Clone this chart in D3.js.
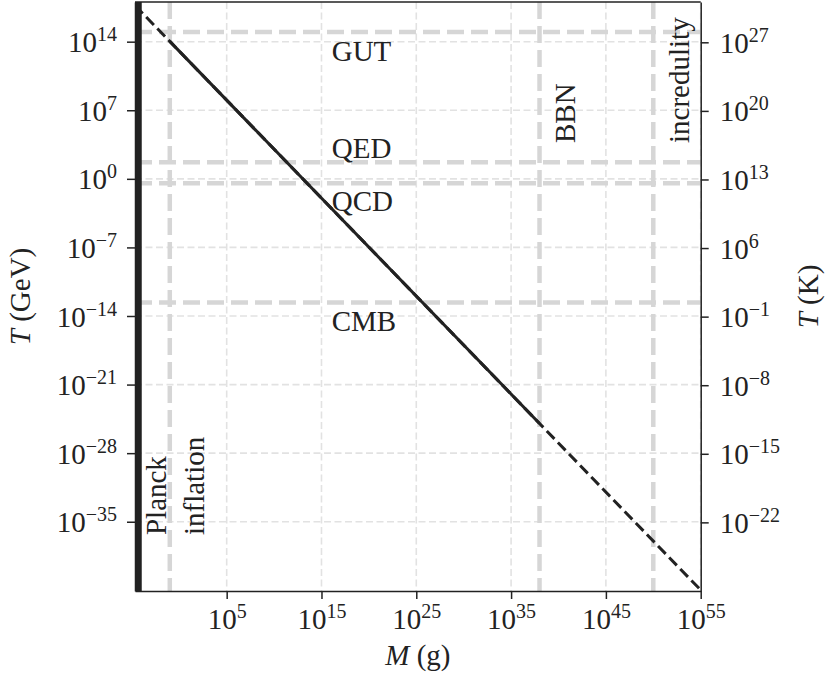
<!DOCTYPE html>
<html><head><meta charset="utf-8">
<script src="https://cdn.jsdelivr.net/npm/d3@7"></script>
<style>body{margin:0;background:#fff} svg{display:block}</style>
</head><body>
<svg id="c" width="828" height="678"></svg>
<script>
// ---- data (exponents of ten) ----
const xDomainExp = [-4.67, 55];          // M (g)
const yDomainExp = [-42.07, 18.05];      // T (GeV)
const GeVtoK = 1.1605e13;
const xTickExp = [5, 15, 25, 35, 45, 55];
const yTickExpGeV = [14, 7, 0, -7, -14, -21, -28, -35];
const yTickExpK = [27, 20, 13, 6, -1, -8, -15, -22];
// Hawking temperature curve points
const curveMassExp = [-4.66, -1, 38, 55];
const curveTempExp = [17.69, 14.03, -24.97, -41.97];
// epochs
const planckMassExp = -4.67;
const hLineNames = ["GUT", "QED", "QCD", "CMB"];
const hLineTempExp = [15.0, 1.69, -0.44, -12.63];
const vLineNames = ["inflation", "BBN", "incredulity"];
const vLineMassExp = [-1, 38, 50];
// labels
const hLabelText = ["GUT", "QED", "QCD", "CMB"];
const hLabelMassExp = [16.08, 16.08, 16.08, 16.08];
const hLabelTempExp = [12.03, 2.13, -3.28, -15.53];
const vLabelText = ["Planck", "inflation", "BBN", "incredulity"];
const vLabelMassExp = [-1.38, 2.58, 41.74, 53.77];
const vLabelTempExp = [-36.36, -36.36, 3.66, 3.66];

// ---- layout ----
const W = 828, H = 678;
const m = {left: 135, top: 2, right: 127.3, bottom: 87};
const iw = W - m.left - m.right, ih = H - m.top - m.bottom;
const FONT = "'Liberation Serif', 'DejaVu Serif', serif";
const ink = "#222";
const FS = 29, SUP = 20;
const p10 = e => Math.pow(10, e);

const x = d3.scaleLog().domain(xDomainExp.map(p10)).range([0, iw]);
const y = d3.scaleLog().domain(yDomainExp.map(p10)).range([ih, 0]);
const yK = d3.scaleLog().domain(yDomainExp.map(e => p10(e) * GeVtoK)).range([ih, 0]);

const svg = d3.select("#c").attr("font-family", FONT);
svg.append("rect").attr("width", W).attr("height", H).attr("fill", "#fff");
const defs = svg.append("defs");
defs.append("clipPath").attr("id", "clip").append("rect").attr("width", iw).attr("height", ih);
const g = svg.append("g").attr("transform", `translate(${m.left},${m.top})`);
const plot = g.append("g").attr("clip-path", "url(#clip)");

// grid
plot.selectAll(".gx").data(xTickExp).join("line")
  .attr("x1", d => x(p10(d))).attr("x2", d => x(p10(d)))
  .attr("y1", 0).attr("y2", ih)
  .attr("stroke", "#e2e2e2").attr("stroke-width", 1.6).attr("stroke-dasharray", "7,3.5");
plot.selectAll(".gy").data(yTickExpGeV).join("line")
  .attr("y1", d => y(p10(d))).attr("y2", d => y(p10(d)))
  .attr("x1", 0).attr("x2", iw)
  .attr("stroke", "#e2e2e2").attr("stroke-width", 1.6).attr("stroke-dasharray", "7,3.5");

// epoch lines
plot.selectAll(".hl").data(hLineTempExp).join("line")
  .attr("y1", d => y(p10(d))).attr("y2", d => y(p10(d)))
  .attr("x1", 0).attr("x2", iw)
  .attr("stroke", "#d6d6d6").attr("stroke-width", 4.5).attr("stroke-dasharray", "17,7");
plot.selectAll(".vl").data(vLineMassExp).join("line")
  .attr("x1", d => x(p10(d))).attr("x2", d => x(p10(d)))
  .attr("y1", 0).attr("y2", ih)
  .attr("stroke", "#d6d6d6").attr("stroke-width", 4.5).attr("stroke-dasharray", "17,7");

// curve
const pts = curveMassExp.map((e, i) => [p10(e), p10(curveTempExp[i])]);
const line = d3.line().x(d => x(d[0])).y(d => y(d[1]));
plot.append("path").attr("d", line(pts)).attr("fill", "none")
  .attr("stroke", ink).attr("stroke-width", 3).attr("stroke-dasharray", "11,5");
plot.append("path").attr("d", line(pts.slice(1, 3))).attr("fill", "none")
  .attr("stroke", ink).attr("stroke-width", 3);

// Planck wall
plot.append("line")
  .attr("x1", x(p10(planckMassExp))).attr("x2", x(p10(planckMassExp)))
  .attr("y1", 0).attr("y2", ih).attr("stroke", ink).attr("stroke-width", 13.5);

// labels
g.selectAll(".hlab").data(hLabelText).join("text")
  .attr("x", (d, i) => x(p10(hLabelMassExp[i])))
  .attr("y", (d, i) => y(p10(hLabelTempExp[i])))
  .attr("font-size", FS).attr("fill", ink).text(d => d);
g.selectAll(".vlab").data(vLabelText).join("text")
  .attr("transform", (d, i) => `translate(${x(p10(vLabelMassExp[i]))},${y(p10(vLabelTempExp[i]))}) rotate(-90)`)
  .attr("font-size", FS).attr("fill", ink).text(d => d);

// axes
const supLabel = (sel) => sel.each(function(d) {
  const e = Math.round(Math.log10(d));
  const t = d3.select(this);
  t.text(null);
  t.append("tspan").text("10");
  t.append("tspan").attr("font-size", SUP).attr("dy", -11).text(String(e).replace("-", "\u2212"));
});
const styleAxis = (ax) => {
  ax.select(".domain").attr("stroke", ink).attr("stroke-width", 1.5);
  ax.selectAll(".tick line").attr("stroke", ink).attr("stroke-width", 1.5);
  ax.selectAll(".tick text").attr("font-family", FONT).attr("font-size", FS).attr("fill", ink);
};

const axB = g.append("g").attr("transform", `translate(0,${ih})`)
  .call(d3.axisBottom(x).tickValues(xTickExp.map(p10)).tickSize(8).tickSizeOuter(0).tickPadding(9));
styleAxis(axB);
axB.selectAll(".tick text").attr("dy", "0.71em").call(supLabel);

const axL = g.append("g")
  .call(d3.axisLeft(y).tickValues(yTickExpGeV.map(p10)).tickSize(8).tickSizeOuter(0).tickPadding(10));
styleAxis(axL);
axL.selectAll(".tick text").attr("dy", "0.345em").call(supLabel);

const axR = g.append("g").attr("transform", `translate(${iw},0)`)
  .call(d3.axisRight(yK).tickValues(yTickExpK.map(p10)).tickSize(8).tickSizeOuter(0).tickPadding(11));
styleAxis(axR);
axR.selectAll(".tick text").attr("dy", "0.345em").call(supLabel);

// top spine
g.append("line").attr("x1", 0).attr("x2", iw).attr("y1", 0).attr("y2", 0)
  .attr("stroke", ink).attr("stroke-width", 1.5);

// axis titles
const title = (sel, parts) => {
  parts.forEach(p => sel.append("tspan").attr("font-style", p[1] ? "italic" : "normal").text(p[0]));
};
title(g.append("text").attr("x", iw / 2).attr("y", ih + 74).attr("text-anchor", "middle")
  .attr("font-size", 29).attr("fill", ink), [["M", true], ["\u00a0(g)", false]]);
title(g.append("text").attr("transform", `translate(${-m.left + 30},${ih / 2}) rotate(-90)`)
  .attr("text-anchor", "middle").attr("font-size", 29).attr("fill", ink), [["T", true], ["\u00a0(GeV)", false]]);
title(g.append("text").attr("transform", `translate(${iw + 117},${ih / 2}) rotate(-90)`)
  .attr("text-anchor", "middle").attr("font-size", 29).attr("fill", ink), [["T", true], ["\u00a0(K)", false]]);
</script>
</body></html>
